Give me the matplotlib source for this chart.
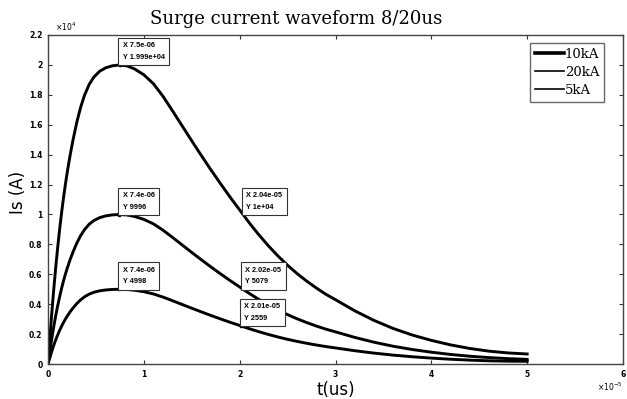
import matplotlib.pyplot as plt
from matplotlib.ticker import FuncFormatter, MultipleLocator

# time samples, in units of 1e-5 s
t_read = [0, 0.01, 0.02, 0.035, 0.05, 0.065, 0.08, 0.1, 0.12, 0.14, 0.16,
          0.18, 0.2, 0.23, 0.26, 0.3, 0.34, 0.38, 0.43, 0.48, 0.54, 0.6,
          0.67, 0.74, 0.82, 0.9,
          1.0, 1.1, 1.2, 1.3, 1.4, 1.5, 1.6, 1.7, 1.8, 1.9, 2.0, 2.1, 2.2,
          2.3, 2.4, 2.5, 2.6, 2.7, 2.8, 2.9, 3.0,
          3.2, 3.4, 3.6, 3.8, 4.0, 4.2, 4.4, 4.6, 4.8, 5.0]

# currents, in units of 1e4 A
i_top = [0, 0.09, 0.178, 0.306, 0.426, 0.538, 0.644, 0.774, 0.894, 1.004, 1.104,
         1.196, 1.28, 1.394, 1.496, 1.616, 1.716, 1.796, 1.87, 1.92, 1.958, 1.98,
         1.994, 1.999, 1.994, 1.974,
         1.934, 1.874, 1.79, 1.692, 1.592, 1.492, 1.394, 1.298, 1.206, 1.116, 1.03,
         0.944, 0.864, 0.79, 0.722, 0.66, 0.604, 0.554, 0.508, 0.466, 0.43,
         0.356, 0.292, 0.238, 0.194, 0.158, 0.128, 0.104, 0.086, 0.074, 0.067]
i_mid = [0, 0.045, 0.089, 0.153, 0.213, 0.269, 0.322, 0.387, 0.447, 0.502, 0.552,
         0.598, 0.64, 0.697, 0.748, 0.808, 0.858, 0.898, 0.935, 0.96, 0.979, 0.99,
         0.997, 0.9996, 0.997, 0.987,
         0.967, 0.937, 0.895, 0.846, 0.796, 0.746, 0.697, 0.649, 0.603, 0.558, 0.515,
         0.472, 0.432, 0.395, 0.361, 0.33, 0.302, 0.277, 0.254, 0.233, 0.215,
         0.178, 0.146, 0.119, 0.097, 0.079, 0.064, 0.052, 0.043, 0.036, 0.031]
i_low = [0, 0.0225, 0.0445, 0.0765, 0.1065, 0.1345, 0.161, 0.1935, 0.2235, 0.251, 0.276,
         0.299, 0.32, 0.3485, 0.374, 0.404, 0.429, 0.449, 0.4675, 0.48, 0.4895, 0.495,
         0.4985, 0.4998, 0.4985, 0.4935,
         0.4835, 0.4685, 0.4475, 0.423, 0.398, 0.373, 0.3485, 0.3245, 0.3015, 0.279, 0.2575,
         0.236, 0.216, 0.1975, 0.1805, 0.165, 0.151, 0.1385, 0.127, 0.1165, 0.1075,
         0.089, 0.073, 0.0595, 0.0485, 0.0395, 0.032, 0.026, 0.0215, 0.019, 0.018]

labels = ["10kA", "20kA", "5kA"]

# data tips: point (s, A) and text
tip_x = [7.5e-6, 7.4e-6, 2.04e-5, 7.4e-6, 2.02e-5, 2.01e-5]
tip_y = [19990, 9996, 10000, 4998, 5079, 2559]
tip_text = ["X 7.5e-06\nY 1.999e+04", "X 7.4e-06\nY 9996", "X 2.04e-05\nY 1e+04",
            "X 7.4e-06\nY 4998", "X 2.02e-05\nY 5079", "X 2.01e-05\nY 2559"]
# box top-left corners (units of 1e-5 s, 1e4 A)
tip_box = [(0.78, 2.15), (0.78, 1.15), (2.07, 1.15),
           (0.78, 0.65), (2.06, 0.65), (2.05, 0.405)]

t = [v * 1e-5 for v in t_read]

fig = plt.figure(figsize=(6.27, 3.99), dpi=100)
ax = fig.add_axes([0.0766, 0.0877, 0.9170, 0.8246])

ax.plot(t, [v * 1e4 for v in i_top], color="black", lw=2.1, label=labels[0])
ax.plot(t, [v * 1e4 for v in i_mid], color="black", lw=2.1, label=labels[1])
ax.plot(t, [v * 1e4 for v in i_low], color="black", lw=2.1, label=labels[2])

ax.plot(tip_x, tip_y, "s", color="black", ms=2)
for (bx, by), txt in zip(tip_box, tip_text):
    ax.text(bx * 1e-5, by * 1e4, txt, ha="left", va="top", fontsize=5.3,
            fontweight="bold", linespacing=1.9, family="Liberation Sans",
            bbox=dict(boxstyle="square,pad=0.6", fc="white", ec="#333333", lw=0.8))

ax.set_xlim(0, 6e-5)
ax.set_ylim(0, 2.2e4)
ax.xaxis.set_major_locator(MultipleLocator(1e-5))
ax.yaxis.set_major_locator(MultipleLocator(0.2e4))
ax.xaxis.set_major_formatter(FuncFormatter(lambda v, p: "%g" % round(v / 1e-5, 3)))
ax.yaxis.set_major_formatter(FuncFormatter(lambda v, p: "%g" % round(v / 1e4, 3)))
ax.tick_params(direction="in", top=True, right=True, length=3, width=0.8,
               labelsize=5.5, pad=4, color="#333333")
for lab in ax.get_xticklabels() + ax.get_yticklabels():
    lab.set_fontweight("bold")
for s in ax.spines.values():
    s.set_color("#444444")
    s.set_linewidth(1.0)

ax.text(0.012, 1.005, r"$\times10^{4}$", transform=ax.transAxes, fontsize=5.5,
        ha="left", va="bottom")
ax.text(1.0, -0.05, r"$\times10^{-5}$", transform=ax.transAxes, fontsize=5.5,
        ha="right", va="top")

fig.text(0.472, 0.952, "Surge current waveform 8/20us", family="DejaVu Serif",
         fontsize=13, ha="center", va="center")
ax.set_xlabel("t(us)", fontsize=12, labelpad=2)
ax.set_ylabel("Is (A)", fontsize=12)
ax.yaxis.set_label_coords(-0.037, 0.52)

leg = ax.legend(loc="upper right", prop={"family": "DejaVu Serif", "size": 9.5},
                fancybox=False, edgecolor="#444444", handlelength=2.2,
                handletextpad=0.1, borderpad=0.35, labelspacing=0.4,
                borderaxespad=0, bbox_to_anchor=(0.967, 0.976))
leg.get_frame().set_linewidth(1.0)
leg.get_lines()[0].set_linewidth(2.6)
leg.get_lines()[1].set_linewidth(1.2)
leg.get_lines()[2].set_linewidth(1.2)

fig.savefig("out.png", dpi=100)
